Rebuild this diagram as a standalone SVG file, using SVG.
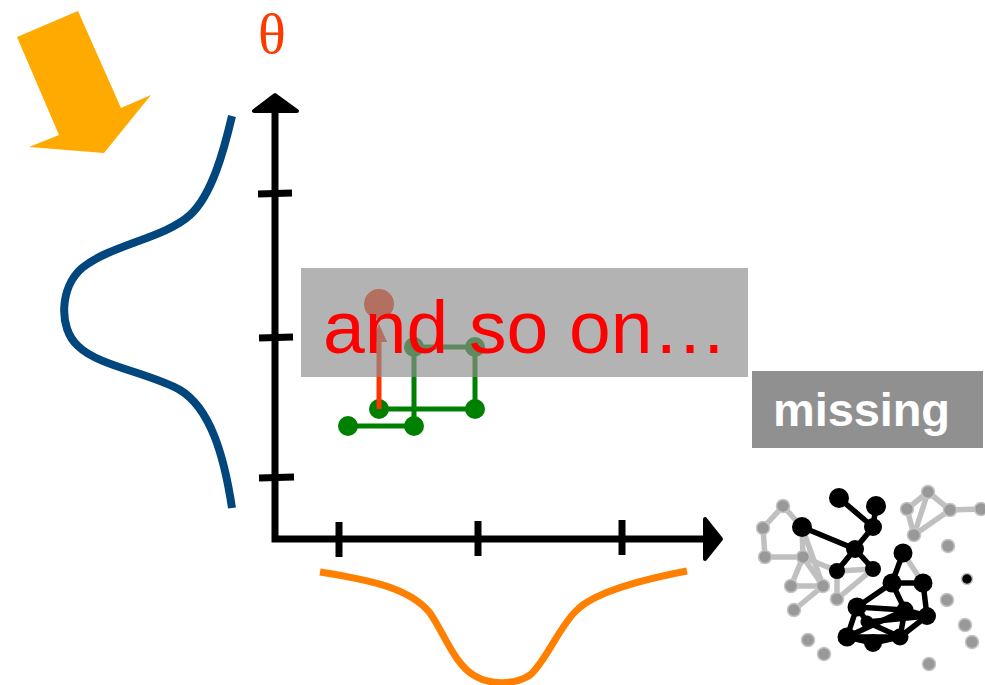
<svg xmlns="http://www.w3.org/2000/svg" width="985" height="685" viewBox="0 0 985 685">
  <style>
    .axis { stroke: #000; stroke-width: 7; fill: none; }
    .tick { stroke: #000; stroke-width: 7; }
    .head { fill: #000; stroke: #000; stroke-width: 4; stroke-linejoin: round; }
    .chain { stroke: #008000; stroke-width: 5; fill: none; }
    .cpt { fill: #008000; }
    .gedge { stroke: #c0c0c0; stroke-width: 5.5; stroke-linecap: round; }
    .bedge { stroke: #000; stroke-width: 5.5; stroke-linecap: round; }
    .gnode { fill: #999; stroke: #c4c4c4; stroke-width: 1.5; }
    .bnode { fill: #000; }
  </style>

  <rect width="985" height="685" fill="#fff"/>

  <!-- incoming block arrow -->
  <g id="input-arrow">
    <polygon points="17,37 78,11 121,108 151,95 104,153 29,147 59,135" fill="#FFAA00"/>
  </g>

  <!-- parameter label -->
  <g id="theta-label">
    <text x="272" y="53" font-family="Liberation Serif, serif" font-size="58" fill="#FF3A00" text-anchor="middle">θ</text>
  </g>

  <!-- prior density along the vertical axis -->
  <g id="prior-curve">
    <path d="M232,116 C224,150 212,195 190,215 C165,238 110,245 82,268 C60,287 58,328 78,346 C98,366 150,373 180,390 C210,408 224,455 232,508" fill="none" stroke="#01467D" stroke-width="8"/>
  </g>

  <!-- density along the horizontal axis -->
  <g id="likelihood-curve">
    <path d="M320,572 C370,580 410,588 430,613 C445,635 455,665 475,676 C490,685 515,685 530,675 C545,663 560,625 577,610 C595,592 640,580 687,571" fill="none" stroke="#FF8000" stroke-width="7"/>
  </g>

  <!-- axes -->
  <g id="axes">
    <path class="axis" d="M275,108 V539 H706"/>
    <polygon class="head" points="275,95 254,111 297,111"/>
    <polygon class="head" points="721,539 705,519 705,559"/>
    <line class="tick" x1="258" y1="194" x2="292" y2="193"/>
    <line class="tick" x1="259" y1="338" x2="293" y2="337"/>
    <line class="tick" x1="259" y1="478" x2="294" y2="477"/>
    <line class="tick" x1="339" y1="522" x2="339" y2="557"/>
    <line class="tick" x1="478" y1="521" x2="478" y2="556"/>
    <line class="tick" x1="622" y1="520" x2="622" y2="555"/>
  </g>

  <!-- sampler path -->
  <g id="chain">
    <path class="chain" d="M348,426 H414 V347 H475 V409 H379"/>
    <circle class="cpt" cx="348" cy="426" r="10"/>
    <circle class="cpt" cx="414" cy="426" r="10"/>
    <circle class="cpt" cx="414" cy="347" r="10"/>
    <circle class="cpt" cx="475" cy="347" r="10"/>
    <circle class="cpt" cx="475" cy="409" r="10"/>
    <circle class="cpt" cx="379" cy="409" r="10"/>
  </g>

  <!-- proposed step -->
  <g id="proposal">
    <line x1="379" y1="409" x2="379" y2="340" stroke="#FF3300" stroke-width="5"/>
    <polygon points="379,324 371,342 387,342" fill="#FF3300"/>
    <circle cx="379" cy="304" r="15" fill="#FF3300"/>
  </g>

  <!-- overlay caption -->
  <g id="caption">
    <rect x="301" y="268" width="447" height="109" fill="#8E8E8E" fill-opacity="0.67"/>
    <text x="323" y="353" font-family="Liberation Sans, Arial, sans-serif" font-size="75" fill="#FF0000">and so on…</text>
  </g>

  <!-- missing label -->
  <g id="missing">
    <rect x="752" y="371" width="231" height="77" fill="#909090"/>
    <text x="773" y="426" font-family="Liberation Sans, Arial, sans-serif" font-size="47" font-weight="bold" fill="#fff" textLength="177" lengthAdjust="spacing">missing</text>
  </g>

  <!-- network -->
  <g id="network-edges">
    <line class="gedge" x1="783" y1="506" x2="763" y2="528"/>
    <line class="gedge" x1="763" y1="528" x2="765" y2="557"/>
    <line class="gedge" x1="765" y1="557" x2="803" y2="557"/>
    <line class="gedge" x1="783" y1="506" x2="802" y2="527"/>
    <line class="gedge" x1="802" y1="527" x2="803" y2="557"/>
    <line class="gedge" x1="802" y1="527" x2="823" y2="586"/>
    <line class="gedge" x1="803" y1="557" x2="791" y2="586"/>
    <line class="gedge" x1="803" y1="557" x2="823" y2="586"/>
    <line class="gedge" x1="803" y1="557" x2="837" y2="571"/>
    <line class="gedge" x1="791" y1="586" x2="823" y2="586"/>
    <line class="gedge" x1="823" y1="586" x2="794" y2="610"/>
    <line class="gedge" x1="837" y1="571" x2="873" y2="569"/>
    <line class="gedge" x1="837" y1="571" x2="837" y2="599"/>
    <line class="gedge" x1="873" y1="569" x2="837" y2="599"/>
    <line class="gedge" x1="907" y1="509" x2="928" y2="492"/>
    <line class="gedge" x1="928" y1="492" x2="950" y2="510"/>
    <line class="gedge" x1="907" y1="509" x2="914" y2="535"/>
    <line class="gedge" x1="928" y1="492" x2="914" y2="535"/>
    <line class="gedge" x1="914" y1="535" x2="950" y2="510"/>
    <line class="gedge" x1="950" y1="510" x2="981" y2="509"/>
    <line class="gedge" x1="903" y1="553" x2="923" y2="583"/>

    <line class="bedge" x1="839" y1="498" x2="873" y2="527"/>
    <line class="bedge" x1="876" y1="506" x2="873" y2="527"/>
    <line class="bedge" x1="873" y1="527" x2="855" y2="549"/>
    <line class="bedge" x1="802" y1="527" x2="855" y2="549"/>
    <line class="bedge" x1="855" y1="549" x2="837" y2="571"/>
    <line class="bedge" x1="855" y1="549" x2="873" y2="569"/>
    <line class="bedge" x1="903" y1="553" x2="892" y2="583"/>
    <line class="bedge" x1="892" y1="583" x2="923" y2="583"/>
    <line class="bedge" x1="892" y1="583" x2="857" y2="607"/>
    <line class="bedge" x1="892" y1="583" x2="905" y2="610"/>
    <line class="bedge" x1="923" y1="583" x2="927" y2="616"/>
    <line class="bedge" x1="857" y1="607" x2="905" y2="610"/>
    <line class="bedge" x1="905" y1="610" x2="927" y2="616"/>
    <line class="bedge" x1="927" y1="616" x2="900" y2="637"/>
    <line class="bedge" x1="857" y1="607" x2="847" y2="637"/>
    <line class="bedge" x1="847" y1="637" x2="873" y2="643"/>
    <line class="bedge" x1="873" y1="643" x2="900" y2="637"/>
    <line class="bedge" x1="905" y1="610" x2="900" y2="637"/>
    <line class="bedge" x1="847" y1="637" x2="905" y2="610"/>
    <line class="bedge" x1="857" y1="607" x2="867" y2="622"/>
    <line class="bedge" x1="867" y1="622" x2="927" y2="616"/>
    <line class="bedge" x1="867" y1="622" x2="900" y2="637"/>
    <line class="bedge" x1="847" y1="637" x2="900" y2="637"/>
  </g>

  <g id="network-nodes">
    <circle id="g1" class="gnode" cx="783" cy="506" r="6.5"/>
    <circle id="g2" class="gnode" cx="763" cy="528" r="6.5"/>
    <circle id="g3" class="gnode" cx="765" cy="557" r="6.5"/>
    <circle id="g4" class="gnode" cx="803" cy="557" r="6.5"/>
    <circle id="g5" class="gnode" cx="791" cy="586" r="6.5"/>
    <circle id="g6" class="gnode" cx="823" cy="586" r="6.5"/>
    <circle id="g7" class="gnode" cx="794" cy="610" r="6.5"/>
    <circle id="g8" class="gnode" cx="837" cy="599" r="6.5"/>
    <circle id="g9" class="gnode" cx="808" cy="640" r="6.5"/>
    <circle id="g10" class="gnode" cx="824" cy="654" r="6.5"/>
    <circle id="g11" class="gnode" cx="907" cy="509" r="6.5"/>
    <circle id="g12" class="gnode" cx="928" cy="492" r="6.5"/>
    <circle id="g13" class="gnode" cx="950" cy="510" r="6.5"/>
    <circle id="g14" class="gnode" cx="981" cy="509" r="6.5"/>
    <circle id="g15" class="gnode" cx="914" cy="535" r="6.5"/>
    <circle id="g16" class="gnode" cx="948" cy="546" r="6.5"/>
    <circle id="g17" class="gnode" cx="947" cy="600" r="6.5"/>
    <circle id="g18" class="gnode" cx="965" cy="625" r="6.5"/>
    <circle id="g19" class="gnode" cx="972" cy="642" r="6.5"/>
    <circle id="g20" class="gnode" cx="929" cy="664" r="6.5"/>
    <circle id="k0" cx="967" cy="579" r="5.5" fill="#000" stroke="#c4c4c4" stroke-width="1.5"/>

    <circle id="b1" class="bnode" cx="839" cy="498" r="10"/>
    <circle id="b2" class="bnode" cx="876" cy="506" r="10"/>
    <circle id="b3" class="bnode" cx="802" cy="527" r="10"/>
    <circle id="b4" class="bnode" cx="873" cy="527" r="9"/>
    <circle id="b5" class="bnode" cx="855" cy="549" r="9"/>
    <circle id="b7" class="bnode" cx="837" cy="571" r="8"/>
    <circle id="b8" class="bnode" cx="873" cy="569" r="8"/>
    <circle id="b9" class="bnode" cx="903" cy="553" r="9.5"/>
    <circle id="b10" class="bnode" cx="892" cy="583" r="9.5"/>
    <circle id="b11" class="bnode" cx="923" cy="583" r="9.5"/>
    <circle id="b12" class="bnode" cx="857" cy="607" r="9.5"/>
    <circle id="b13" class="bnode" cx="905" cy="610" r="8.5"/>
    <circle id="b14" class="bnode" cx="927" cy="616" r="9"/>
    <circle id="b15" class="bnode" cx="847" cy="637" r="9.5"/>
    <circle id="b16" class="bnode" cx="873" cy="643" r="9"/>
    <circle id="b17" class="bnode" cx="900" cy="637" r="8.5"/>
    <circle id="b18" class="bnode" cx="867" cy="622" r="6.5"/>
  </g>
</svg>
